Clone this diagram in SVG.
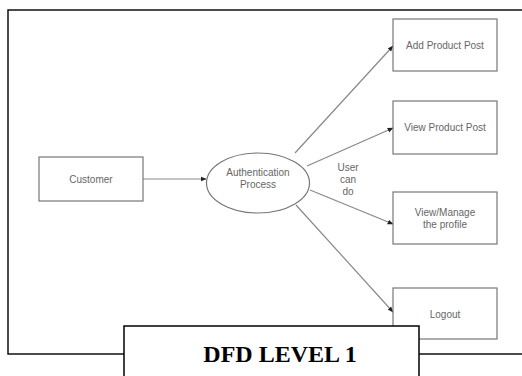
<svg xmlns="http://www.w3.org/2000/svg" width="522" height="376" viewBox="0 0 522 376">
<defs>
<style>
.box{fill:#fff;stroke:#777;stroke-width:1.2}
.lbl{font-family:"Liberation Sans",Arial,sans-serif;font-size:10px;fill:#666;text-anchor:middle}
.conn{stroke:#888;stroke-width:1.2;fill:none;marker-end:url(#arr)}
</style>
<marker id="arr" viewBox="0 0 10 10" refX="9" refY="5" markerWidth="6" markerHeight="6" orient="auto" markerUnits="userSpaceOnUse">
<path d="M0,1 L10,5 L0,9 z" fill="#222"/>
</marker>
</defs>
<rect x="0" y="0" width="522" height="376" fill="#fff"/>
<g id="frame">
<rect x="8" y="10" width="530" height="344" fill="none" stroke="#111" stroke-width="1.5"/>
</g>
<g id="connectors">
<line class="conn" x1="143" y1="179" x2="206" y2="179"/>
<line class="conn" x1="295" y1="153" x2="393" y2="46"/>
<line class="conn" x1="307" y1="166" x2="393" y2="128"/>
<line class="conn" x1="310" y1="190" x2="393" y2="224"/>
<line class="conn" x1="296" y1="205" x2="393" y2="312"/>
<g id="label-usercando">
<text class="lbl" x="348" y="171">User</text>
<text class="lbl" x="348" y="183">can</text>
<text class="lbl" x="348" y="195">do</text>
</g>
</g>
<g id="customer">
<rect class="box" x="39" y="157" width="104" height="44"/>
<text class="lbl" x="91" y="182.5">Customer</text>
</g>
<g id="auth">
<ellipse class="box" cx="258" cy="183" rx="51.5" ry="30"/>
<text class="lbl" x="258" y="176">Authentication</text>
<text class="lbl" x="258" y="188">Process</text>
</g>
<g id="add-post">
<rect class="box" x="393" y="19" width="104" height="52"/>
<text class="lbl" x="445" y="48.5">Add Product Post</text>
</g>
<g id="view-post">
<rect class="box" x="393" y="101" width="104" height="53"/>
<text class="lbl" x="445" y="130.5">View Product Post</text>
</g>
<g id="manage-profile">
<rect class="box" x="393" y="192" width="104" height="52"/>
<text class="lbl" x="445" y="215.5">View/Manage</text>
<text class="lbl" x="445" y="227.5">the profile</text>
</g>
<g id="logout">
<rect class="box" x="393" y="288" width="104" height="51"/>
<text class="lbl" x="445" y="317.5">Logout</text>
</g>
<g id="title">
<rect x="124" y="326" width="295" height="60" fill="#fff" stroke="#000" stroke-width="1.5"/>
<text x="280" y="362" font-family="'Liberation Serif','Times New Roman',serif" font-size="24" font-weight="bold" text-anchor="middle" fill="#000">DFD LEVEL 1</text>
</g>
</svg>
